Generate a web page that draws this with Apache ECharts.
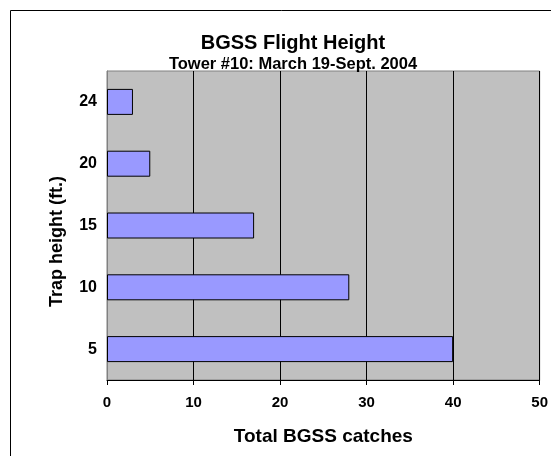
<!DOCTYPE html>
<html>
<head>
<meta charset="utf-8">
<script src="https://cdn.jsdelivr.net/npm/echarts@6/dist/echarts.min.js"></script>
<style>html,body{margin:0;padding:0;background:#fff;}#c{width:551px;height:456px;}</style>
</head>
<body>
<div id="c"></div>
<script>
var categories = ['5', '10', '15', '20', '24'];
var catches = [40, 28, 17, 5, 3];
var xTicks = [0, 10, 20, 30, 40, 50];

var FONT = '"Liberation Sans", Arial, sans-serif';
var chart = echarts.init(document.getElementById('c'), null, {renderer: 'canvas'});
chart.setOption({
  animation: false,
  backgroundColor: '#ffffff',
  title: [{
    text: 'BGSS Flight Height',
    left: 288, textAlign: 'center', top: 28,
    textStyle: {fontFamily: FONT, fontWeight: 'bold', fontSize: 20, color: '#000'}
  }, {
    text: 'Tower #10: March 19-Sept. 2004',
    left: 288, textAlign: 'center', top: 51,
    textStyle: {fontFamily: FONT, fontWeight: 'bold', fontSize: 16.5, color: '#000'}
  }],
  graphic: [{
    type: 'rect', silent: true,
    shape: {x: 10.5, y: 10.5, width: 700, height: 600},
    style: {fill: 'none', stroke: '#000', lineWidth: 1}
  }],
  grid: {
    left: 107, right: 11, top: 71, bottom: 76,
    show: true, backgroundColor: '#c0c0c0', borderColor: '#808080', borderWidth: 1
  },
  xAxis: {
    type: 'value', min: xTicks[0], max: xTicks[xTicks.length - 1], interval: 10,
    name: 'Total BGSS catches', nameLocation: 'middle', nameGap: 47,
    nameTextStyle: {fontFamily: FONT, fontWeight: 'bold', fontSize: 19, color: '#000'},
    axisLine: {show: true, lineStyle: {color: '#000', width: 1}},
    axisTick: {show: true, length: 5, lineStyle: {color: '#000'}},
    axisLabel: {fontFamily: FONT, fontWeight: 'bold', fontSize: 15, color: '#000', margin: 15},
    splitLine: {show: true, lineStyle: {color: '#000', width: 1}}
  },
  yAxis: {
    type: 'category', data: categories,
    name: 'Trap height (ft.)', nameLocation: 'middle', nameGap: 41, nameRotate: 90,
    nameTextStyle: {fontFamily: FONT, fontWeight: 'bold', fontSize: 18, color: '#000', padding: [0, 32, 0, 0]},
    axisLine: {show: true, lineStyle: {color: '#808080'}},
    axisTick: {show: false},
    axisLabel: {fontFamily: FONT, fontWeight: 'bold', fontSize: 16, color: '#000', margin: 10},
    splitLine: {show: false}
  },
  series: [{
    type: 'bar', data: catches, barWidth: 26,
    itemStyle: {color: '#9999ff', borderColor: '#000', borderWidth: 1}
  }]
});
</script>
</body>
</html>
